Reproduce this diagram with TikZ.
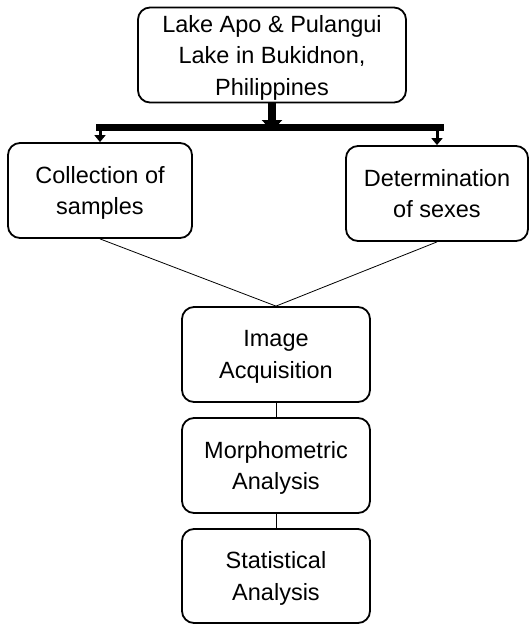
\documentclass[tikz,border=0pt]{standalone}
\usepackage{fontspec}
\setmainfont{Liberation Sans}
\usetikzlibrary{arrows.meta}

\begin{document}
\begin{tikzpicture}[x=1pt,y=-1pt,
			box/.style={draw,line width=1.8pt,rounded corners=12pt,align=center,
				font=\fontsize{23.5}{31.5}\selectfont,inner sep=0pt,text depth=0pt},
			thin link/.style={line width=0.8pt}]
			\useasboundingbox (0,0) rectangle (530,625);
			\node[box,minimum width=268pt,minimum height=95pt] (lake) at (272,55)
				{Lake Apo \& Pulangui\\Lake in Bukidnon,\\Philippines};
			\node[box,minimum width=184pt,minimum height=95pt] (collect) at (100,190.5)
				{Collection of\\samples};
			\node[box,minimum width=182pt,minimum height=95pt] (sexes) at (437,193.5)
				{Determination\\of sexes};
			\node[box,minimum width=188pt,minimum height=95pt] (image) at (276,354.5)
				{Image\\Acquisition};
			\node[box,minimum width=188pt,minimum height=95pt] (morph) at (276,465.5)
				{Morphometric\\Analysis};
			\node[box,minimum width=188pt,minimum height=94pt] (stat) at (276,576)
				{Statistical\\Analysis};
			% bar under the top box
			\coordinate (barL) at (96,127.5);
			\coordinate (barR) at (444,127.5);
			\coordinate (barM) at (272,131);
			\draw[line width=7pt] (barL) -- (barR);
			\draw[line width=8pt,-{Triangle[width=20pt,length=11pt]}] (lake.south) -- (barM);
			\draw[line width=3pt,-{Triangle[width=11pt,length=7pt]}] (barL -| collect) -- (collect.north);
			\draw[line width=3pt,-{Triangle[width=11pt,length=7pt]}] (barR -| sexes) -- (sexes.north);
			% links to the lower chain
			\draw[thin link] (collect.south) -- (image.north);
			\draw[thin link] (sexes.south) -- (image.north);
			\draw[thin link] (image.south) -- (morph.north);
			\draw[thin link] (morph.south) -- (stat.north);
\end{tikzpicture}
\end{document}
